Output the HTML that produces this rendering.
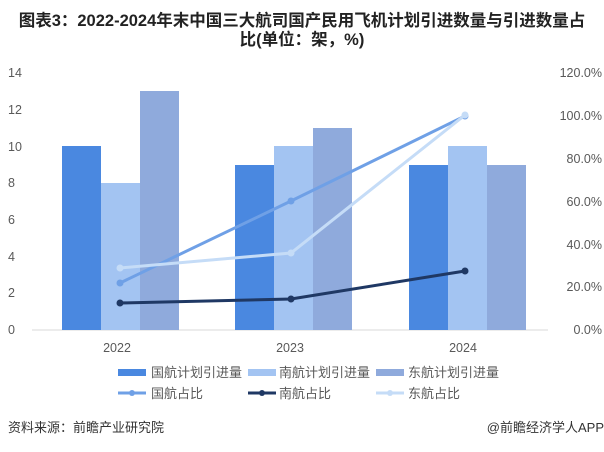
<!DOCTYPE html><html><head><meta charset="utf-8"><style>
body{margin:0;background:#fff;width:604px;height:447px;overflow:hidden;font-family:"Liberation Sans","Noto Sans CJK SC",sans-serif}
</style></head><body>
<svg width="604" height="447" xmlns="http://www.w3.org/2000/svg" font-family="Liberation Sans, Noto Sans CJK SC, sans-serif">
<text x="302" y="26" text-anchor="middle" font-size="16.5" font-weight="bold" fill="#222">图表3：2022-2024年末中国三大航司国产民用飞机计划引进数量与引进数量占</text>
<text x="302" y="45" text-anchor="middle" font-size="16.5" font-weight="bold" fill="#222">比(单位：架，%)</text>
<g font-size="12.5" fill="#595959">
<text x="8" y="77">14</text><text x="8" y="114">12</text><text x="8" y="151">10</text><text x="8" y="187">8</text><text x="8" y="224">6</text><text x="8" y="261">4</text><text x="8" y="297">2</text><text x="8" y="334">0</text>
<g text-anchor="end"><text x="602" y="77">120.0%</text><text x="602" y="120">100.0%</text><text x="602" y="163">80.0%</text><text x="602" y="206">60.0%</text><text x="602" y="249">40.0%</text><text x="602" y="291">20.0%</text><text x="602" y="334">0.0%</text></g>
<g text-anchor="middle"><text x="117" y="352">2022</text><text x="290" y="352">2023</text><text x="463" y="352">2024</text></g>
</g>
<line x1="32" y1="330" x2="548" y2="330" stroke="#d9d9d9"/>
<g>
<rect x="62" y="146" width="39" height="184" fill="#4a88e0"/>
<rect x="101" y="183" width="39" height="147" fill="#a3c4f2"/>
<rect x="140" y="91" width="39" height="239" fill="#8faadc"/>
<rect x="235" y="165" width="39" height="165" fill="#4a88e0"/>
<rect x="274" y="146" width="39" height="184" fill="#a3c4f2"/>
<rect x="313" y="128" width="39" height="202" fill="#8faadc"/>
<rect x="409" y="165" width="39" height="165" fill="#4a88e0"/>
<rect x="448" y="146" width="39" height="184" fill="#a3c4f2"/>
<rect x="487" y="165" width="39" height="165" fill="#8faadc"/>
</g>
<polyline points="120,283 291,201 465,116" fill="none" stroke="#6fa0e6" stroke-width="3"/>
<g fill="#6fa0e6"><circle cx="120" cy="283" r="3.5"/><circle cx="291" cy="201" r="3.5"/><circle cx="465" cy="116" r="3.5"/></g>
<polyline points="120,268 291,253 465,115" fill="none" stroke="#c5dcf7" stroke-width="3"/>
<g fill="#c5dcf7"><circle cx="120" cy="268" r="3.5"/><circle cx="291" cy="253" r="3.5"/><circle cx="465" cy="115" r="3.5"/></g>
<polyline points="120,303 291,299 465,271" fill="none" stroke="#1f3864" stroke-width="3"/>
<g fill="#1f3864"><circle cx="120" cy="303" r="3.5"/><circle cx="291" cy="299" r="3.5"/><circle cx="465" cy="271" r="3.5"/></g>
<g font-size="13" fill="#595959">
<rect x="118" y="369" width="28" height="7" fill="#4a88e0"/><text x="151" y="377">国航计划引进量</text>
<rect x="248" y="369" width="28" height="7" fill="#a3c4f2"/><text x="279" y="377">南航计划引进量</text>
<rect x="376" y="369" width="28" height="7" fill="#8faadc"/><text x="408" y="377">东航计划引进量</text>
<line x1="118" y1="393" x2="146" y2="393" stroke="#6fa0e6" stroke-width="3"/><circle cx="132" cy="393" r="3" fill="#6fa0e6"/><text x="151" y="398">国航占比</text>
<line x1="248" y1="393" x2="276" y2="393" stroke="#1f3864" stroke-width="3"/><circle cx="262" cy="393" r="3" fill="#1f3864"/><text x="279" y="398">南航占比</text>
<line x1="376" y1="393" x2="404" y2="393" stroke="#c5dcf7" stroke-width="3"/><circle cx="390" cy="393" r="3" fill="#c5dcf7"/><text x="408" y="398">东航占比</text>
</g>
<text x="8" y="432" font-size="13" fill="#333">资料来源：前瞻产业研究院</text>
<text x="604" y="432" font-size="13" fill="#333" text-anchor="end">@前瞻经济学人APP</text>
</svg>
</body></html>
